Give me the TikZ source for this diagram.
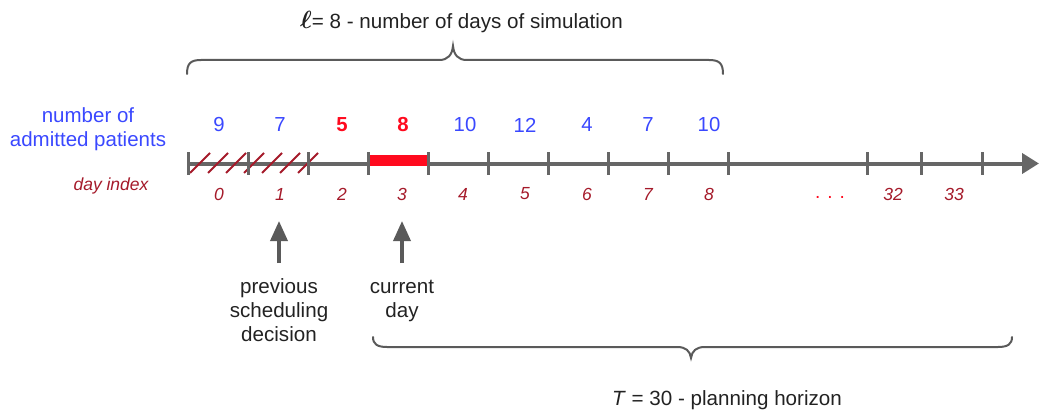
\documentclass[tikz,border=0pt]{standalone}
\usepackage{fontspec}
\setmainfont{Liberation Sans}
\usetikzlibrary{arrows.meta}
\definecolor{axisgray}{HTML}{666666}
\definecolor{bracegray}{HTML}{5A5A5A}
\definecolor{txtdark}{HTML}{222222}
\definecolor{countblue}{HTML}{3A48FF}
\definecolor{hotred}{HTML}{FF0A1E}
\definecolor{idxred}{HTML}{A51A2A}
\begin{document}
\begin{tikzpicture}[x=1pt,y=-1pt,
  lbl/.style={inner sep=0pt,text=txtdark,font=\fontsize{20.6}{24}\selectfont,align=center},
  countlbl/.style={inner sep=0pt,text=countblue,font=\fontsize{20.3}{24}\selectfont},
  hotlbl/.style={inner sep=0pt,text=hotred,font=\fontsize{20.3}{24}\selectfont\bfseries},
  idxlbl/.style={inner sep=0pt,text=idxred,font=\fontsize{17.5}{21}\selectfont\itshape},
  tickmark/.style={draw=axisgray,line width=3pt},
  bracepath/.style={draw=bracegray,line width=2pt,line cap=round},
  pointer/.style={draw=bracegray,line width=3.5pt,-{Triangle[length=20pt,width=17pt]}}]
\useasboundingbox (0,0) rectangle (1039,412);

% time axis
\coordinate (axstart) at (187,163.5);
\coordinate (axend) at (1039,163.5);
\draw[axisgray,line width=4pt,-{Triangle[length=17pt,width=20pt]}] (axstart) -- (axend);

% past days, hatched
\foreach \k in {0,...,6}
  \draw[idxred,line width=2pt] ({190+18*\k},173) -- ({210+18*\k},153);

% current day
\fill[hotred] (368,155) rectangle (428,165.5);

% tick marks
\foreach \t in {188,248,308,368,428,488,548,608,668,728,867,921,982}
  \draw[tickmark] (\t,152) -- (\t,175);

% admitted patients per day
\node[align=center,inner sep=0pt,text=countblue,font=\fontsize{20.5}{24}\selectfont] (cnthead) at (88,129) {number of\\admitted patients};
\node[countlbl] (c0) at (219,125) {9};
\node[countlbl] (c1) at (280,125) {7};
\node[hotlbl]   (c2) at (342,125) {5};
\node[hotlbl]   (c3) at (403,125) {8};
\node[countlbl] (c4) at (465,125) {10};
\node[countlbl] (c5) at (525,125) {12};
\node[countlbl] (c6) at (587,125) {4};
\node[countlbl] (c7) at (648,125) {7};
\node[countlbl] (c8) at (709,125) {10};

% day indices
\node[idxlbl] (idxhead) at (111,186) {day index};
\node[idxlbl] (d0) at (219,194) {0};
\node[idxlbl] (d1) at (280,194) {1};
\node[idxlbl] (d2) at (342,194) {2};
\node[idxlbl] (d3) at (402,194) {3};
\node[idxlbl] (d4) at (463,194) {4};
\node[idxlbl] (d5) at (525,194) {5};
\node[idxlbl] (d6) at (587,194) {6};
\node[idxlbl] (d7) at (648,194) {7};
\node[idxlbl] (d8) at (709,194) {8};
\node[idxlbl,text=hotred,font=\fontsize{19}{21}\selectfont] (ddots) at (830,197) {. . .};
\node[idxlbl] (d32) at (893,194) {32};
\node[idxlbl] (d33) at (954,194) {33};

% pointers to the marked days
\coordinate (prevtail) at (279,263);
\coordinate (prevhead) at (279,221);
\coordinate (curtail) at (402,263);
\coordinate (curhead) at (402,221);
\draw[pointer] (prevtail) -- (prevhead);
\draw[pointer] (curtail) -- (curhead);
\node[lbl,anchor=north] (prevtxt) at (279,276) {\strut previous\\scheduling\\decision};
\node[lbl,anchor=north] (curtxt) at (402,276) {\strut current\\day};

% simulation window brace
\draw[bracepath] (187,74) .. controls (187,63) and (191,60) .. (201,60)
  -- (439,60) .. controls (448,60) and (452,55) .. (453,46)
  .. controls (454,55) and (458,60) .. (467,60)
  -- (709,60) .. controls (719,60) and (723,63) .. (723,74);
\node[lbl,anchor=west] (simtxt) at (300,22) {{\fontsize{23}{24}\selectfont\boldmath$\ell$}= 8 - number of days of simulation};

% planning horizon brace
\draw[bracepath] (373,337) .. controls (373,344) and (377,347) .. (387,347)
  -- (677,347) .. controls (686,347) and (690,351) .. (691,358)
  .. controls (692,351) and (696,347) .. (705,347)
  -- (998,347) .. controls (1008,347) and (1012,344) .. (1012,337);
\node[lbl,anchor=west] (plantxt) at (612,400) {\textit{T} = 30 - planning horizon};
\end{tikzpicture}
\end{document}
